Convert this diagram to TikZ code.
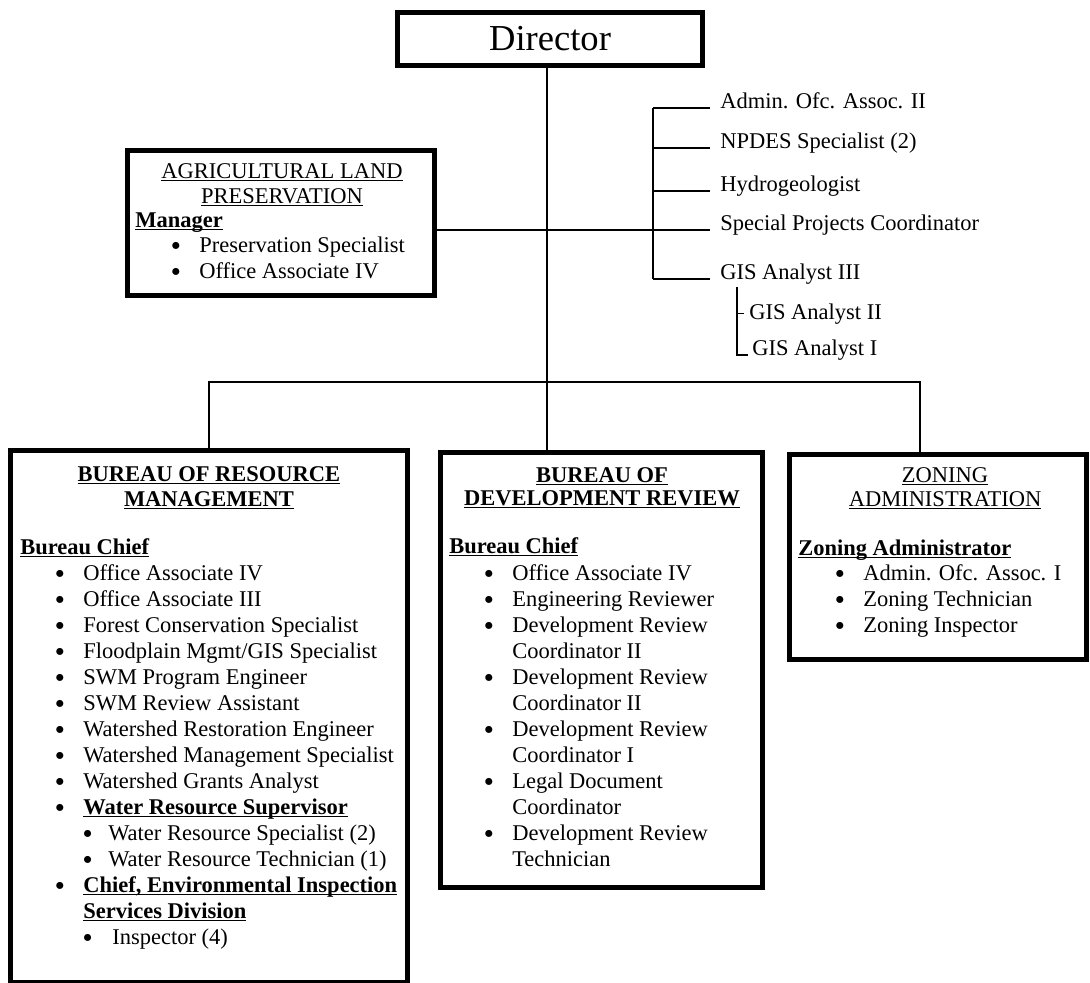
\documentclass[tikz,border=0pt]{standalone}
\usepackage{fontspec}
\setmainfont{Liberation Serif}
\newcommand\uln[1]{\underline{\smash{#1}}}
\newcommand\dotb{\raisebox{1.2pt}{\scalebox{0.75}{$\bullet$}}}
\newcommand\blt{\llap{\dotb\hspace{0.47cm}}}
\newcommand\bls{\llap{\dotb\hspace{0.4cm}}}
\begin{document}
\begin{tikzpicture}[x=0.025cm, y=-0.025cm, font=\fontsize{16}{18}\selectfont,
  box/.style={draw, line width=3.5pt, inner sep=0pt},
  txt/.style={anchor=base west, inner sep=0pt, text height=11pt, text depth=3pt},
  head/.style={anchor=base, inner sep=0pt, text height=11pt, text depth=3pt},
  staff/.style={anchor=base west, inner xsep=0.25cm, inner ysep=0pt, text height=11pt, text depth=3pt},
  link/.style={line width=0.9pt}]
  \fill[white] (0,0) rectangle (1090,982);
  \useasboundingbox (0,0) rectangle (1090,982);
  % boxes
  \node[box, minimum width=7.625cm, minimum height=1.325cm, font=\fontsize{26}{30}\selectfont] (dir) at (550,39) {Director};
  \node[box, minimum width=7.675cm, minimum height=3.625cm] (agr) at (281,223) {};
  \node[box, minimum width=9.925cm, minimum height=13.2875cm] (res) at (209,716.25) {};
  \node[box, minimum width=8.05cm, minimum height=10.875cm] (dev) at (601.5,670) {};
  \node[box, minimum width=7.4125cm, minimum height=5.125cm] (zon) at (937.75,557) {};
  % agricultural land preservation
  \node[head] (agh1) at (282,178) {\uln{AGRICULTURAL LAND}};
  \node[head] (agh2) at (282,203) {\uln{PRESERVATION}};
  \node[txt] (agm) at (135,227) {\uln{\textbf{Manager}}};
  \foreach \y/\t [count=\i] in {252/Preservation Specialist, 278/Office Associate IV}
    \node[txt] (ag\i) at (199,\y) {\blt\t};
  % staff to the director
  \foreach \y/\t [count=\i] in {108/Admin. Ofc. Assoc. II, 148/NPDES Specialist (2), 191/Hydrogeologist,
    230/Special Projects Coordinator, 279/GIS Analyst III}
    \node[staff] (s\i) at (710,\y) {\t};
  \node[txt, inner xsep=0.125cm] (g2) at (744,319) {GIS Analyst II};
  \node[txt, inner xsep=0.1cm] (g1) at (748,355) {GIS Analyst I};
  % resource management
  \node[head] (rsh1) at (209,481) {\uln{\textbf{BUREAU OF RESOURCE}}};
  \node[head] (rsh2) at (209,506) {\uln{\textbf{MANAGEMENT}}};
  \node[txt] (rsc) at (20,554) {\uln{\textbf{Bureau Chief}}};
  \foreach \x/\y/\t [count=\i] in {83/580/\blt Office Associate IV, 83/606/\blt Office Associate III,
    83/632/\blt Forest Conservation Specialist, 83/658/{\blt Floodplain Mgmt/GIS Specialist},
    83/684/\blt SWM Program Engineer, 83/710/\blt SWM Review Assistant,
    83/736/\blt Watershed Restoration Engineer, 83/762/\blt Watershed Management Specialist,
    83/788/\blt Watershed Grants Analyst, 83/814/\blt\uln{\textbf{Water Resource Supervisor}},
    108/840/\bls Water Resource Specialist (2), 108/866/\bls Water Resource Technician (1),
    83/892/{\blt\uln{\textbf{Chief, Environmental Inspection}}}, 83/918/\uln{\textbf{Services Division}},
    112/944/{\llap{\dotb\hspace{0.5cm}}Inspector (4)}}
    \node[txt] (rs\i) at (\x,\y) {\t};
  % development review
  \node[head] (dvh1) at (602,482) {\uln{\textbf{BUREAU OF}}};
  \node[head] (dvh2) at (602,505) {\uln{\textbf{DEVELOPMENT REVIEW}}};
  \node[txt] (dvc) at (449,553) {\uln{\textbf{Bureau Chief}}};
  \foreach \y/\t [count=\i] in {580/\blt Office Associate IV, 606/\blt Engineering Reviewer,
    632/\blt Development Review, 658/Coordinator II, 684/\blt Development Review, 710/Coordinator II,
    736/\blt Development Review, 762/Coordinator I, 788/\blt Legal Document, 814/Coordinator,
    840/\blt Development Review, 866/Technician}
    \node[txt] (dv\i) at (512,\y) {\t};
  % zoning
  \node[head] (znh1) at (945,482) {\uln{ZONING}};
  \node[head] (znh2) at (945,506) {\uln{ADMINISTRATION}};
  \node[txt] (znc) at (798,555) {\uln{\textbf{Zoning Administrator}}};
  \foreach \y/\t [count=\i] in {580/Admin. Ofc. Assoc. I, 606/Zoning Technician, 632/Zoning Inspector}
    \node[txt] (zn\i) at (863,\y) {\blt\t};
  % connectors
  \coordinate (jn) at (547,382);
  \coordinate (zj) at (920,382);
  \coordinate (brk) at (653,0);
  \coordinate (sb) at (737,287);
  \draw[link] (dir.south -| jn) -- (jn |- dev.north);
  \draw[link] (res.north) |- (zj) -- (zj |- zon.north);
  \draw[link] (agr.east |- s4.base west) -- (s4.base west);
  \draw[link] (brk |- s1.base west) -- (brk |- s5.base west);
  \foreach \i in {1,...,5} \draw[link] (brk |- s\i.base west) -- (s\i.base west);
  \draw[link] (sb) |- (g1.base west);
  \draw[link] (sb |- g2.west) -- (g2.west);
\end{tikzpicture}
\end{document}
